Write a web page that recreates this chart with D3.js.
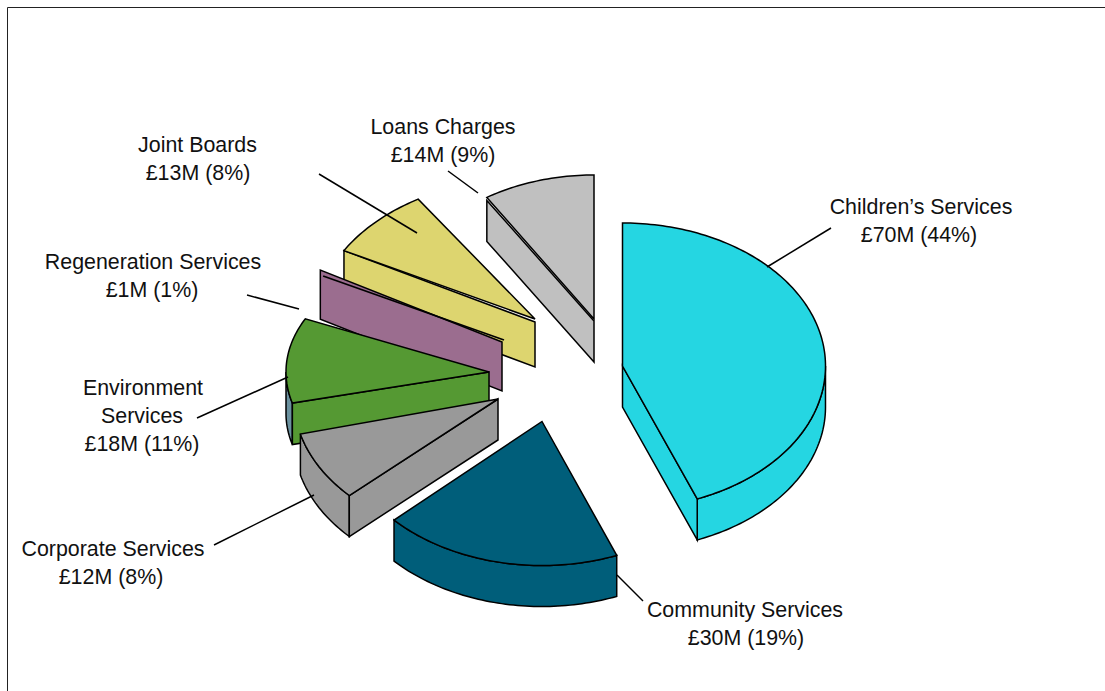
<!DOCTYPE html>
<html>
<head>
<meta charset="utf-8">
<script src="https://cdn.jsdelivr.net/npm/d3@7"></script>
<style>
  html, body { margin: 0; padding: 0; background: #fff; }
  svg { display: block; }
  text { font-family: "Liberation Sans", Arial, sans-serif; font-size: 21.4px; fill: #111; text-anchor: middle; }
</style>
</head>
<body>
<svg id="chart" width="1105" height="691"></svg>
<script>
// Council budget by service, in £M, with each service's share of the total.
const services = ["Children’s Services", "Community Services", "Corporate Services", "Environment Services", "Regeneration Services", "Joint Boards", "Loans Charges"];
const millions = [70, 30, 12, 18, 1, 13, 14];
const shares = [44, 19, 8, 11, 1, 8, 9];

const faceColors = ["#25d6e2", "#005e7a", "#999999", "#559933", "#9b6d8f", "#ddd56f", "#c0c0c0"];
const sideColors = ["#25d6e2", "#005e7a", "#999999", "#6b919f", "#9b6d8f", "#ddd56f", "#c0c0c0"];

// Each exploded wedge: position of its tip, ellipse radii of the top face, and extrusion height.
const tipX = [622.5, 542, 498, 489, 504, 535, 594];
const tipY = [366, 421.5, 399, 372, 340, 319, 319];
const radiusX = [203, 203, 204, 203, 203, 218, 200];
const radiusY = [143, 144, 141, 125, 141, 142, 144];
const depths = [41, 41, 41, 41.5, 49, 45, 41];
// The cut wall sits a little apart from the top face on the far wedges.
const wallTipShiftX = [0, 0, 0, 0, -2, 0, 0];
const wallTipShiftY = [0, 0, 0, 0, 2, 3, 2];
const wallRimRadiusX = [203, 203, 204, 203, 203, 218, 200];
const wallRimRadiusY = [143, 144, 141, 125, 164, 142, 144];
const wallRimShiftY = [0, 0, 0, 0, 0, 0, 3];
// Wedges thinner than this share collapse to a single knife edge on top.
const KNIFE_EDGE_SHARE = 2;

// Callout text, one entry per line, with centre x and baseline y.
const labelLines = [
  [["Children’s Services", 921, 214], ["£70M (44%)", 919, 242]],
  [["Community Services", 745, 617], ["£30M (19%)", 746, 645]],
  [["Corporate Services", 113, 556], ["£12M (8%)", 111, 584]],
  [["Environment", 143, 395], ["Services", 142, 423], ["£18M (11%)", 142, 451]],
  [["Regeneration Services", 153, 269], ["£1M (1%)", 152, 297]],
  [["Joint Boards", 197.5, 152], ["£13M (8%)", 198, 180]],
  [["Loans Charges", 443, 134], ["£14M (9%)", 443, 162]]
];
const leaderLines = [
  [831, 228, 767, 267],
  [643, 601, 617, 575],
  [214, 545, 314, 495],
  [197, 418, 288, 377],
  [247, 295, 299, 309],
  [319, 174, 417, 233],
  [448, 171, 478, 193]
];

const svg = d3.select("#chart");
const INK = "#000";
const EDGE = 1.5;

const wedges = d3.pie().sort(null).value(d => d)(shares);
const polygon = d3.line();

// Maps a wedge's unit circle on to the page as a flattened ellipse.
function ellipse(cx, cy, rx, ry) {
  const x = d3.scaleLinear().domain([-1, 1]).range([cx - rx, cx + rx]);
  const y = d3.scaleLinear().domain([-1, 1]).range([cy - ry, cy + ry]);
  return a => [x(Math.sin(a)), y(-Math.cos(a))];
}

function arcPoints(at, a0, a1) {
  const n = Math.max(2, Math.ceil((a1 - a0) / 0.02));
  return d3.range(n + 1).map(i => at(a0 + (a1 - a0) * i / n));
}

function drawPiece(g, points, fill) {
  g.append("path")
    .attr("d", polygon(points) + "Z")
    .attr("fill", fill)
    .attr("stroke", INK)
    .attr("stroke-width", EDGE)
    .attr("stroke-linejoin", "miter");
}

// Far wedges first so that nearer ones overlap them.
d3.range(wedges.length).reverse().forEach(i => {
  const w = wedges[i];
  const g = svg.append("g").attr("class", "wedge");
  const face = ellipse(tipX[i], tipY[i], radiusX[i], radiusY[i]);
  const depth = depths[i];
  const drop = p => [p[0], p[1] + depth];

  // Curved rim: only the part facing the viewer shows.
  const from = Math.max(w.startAngle, Math.PI / 2);
  const to = Math.min(w.endAngle, Math.PI * 1.5);
  if (to > from) {
    const rim = arcPoints(face, from, to);
    drawPiece(g, rim.concat(rim.map(drop).reverse()), sideColors[i]);
  }

  // Radial cut walls that face the viewer.
  const tip = [tipX[i] + wallTipShiftX[i], tipY[i] + wallTipShiftY[i]];
  const wallRim = ellipse(tipX[i], tipY[i] + wallRimShiftY[i], wallRimRadiusX[i], wallRimRadiusY[i]);
  [w.startAngle, w.endAngle].forEach((a, k) => {
    const s = Math.sin(a);
    const seen = k === 0 ? s < -1e-6 : s > 1e-6;
    if (!seen) return;
    const outer = wallRim(a);
    drawPiece(g, [tip, outer, drop(outer), drop(tip)], faceColors[i]);
  });

  // Top face.
  if (shares[i] < KNIFE_EDGE_SHARE) {
    g.append("path")
      .attr("d", polygon([[tipX[i], tipY[i]], face((w.startAngle + w.endAngle) / 2)]))
      .attr("fill", "none")
      .attr("stroke", INK)
      .attr("stroke-width", EDGE + 0.3);
  } else {
    drawPiece(g, [[tipX[i], tipY[i]]].concat(arcPoints(face, w.startAngle, w.endAngle)), faceColors[i]);
  }
});

// Page frame: top and left rules only.
svg.append("path")
  .attr("d", "M7.5,691V7.5H1105")
  .attr("fill", "none")
  .attr("stroke", "#222")
  .attr("stroke-width", 1);

// Leader lines.
svg.append("g").selectAll("line").data(leaderLines).join("line")
  .attr("x1", d => d[0]).attr("y1", d => d[1])
  .attr("x2", d => d[2]).attr("y2", d => d[3])
  .attr("stroke", INK)
  .attr("stroke-width", EDGE);

// Callouts.
svg.append("g").selectAll("text").data(labelLines.flat()).join("text")
  .attr("x", d => d[1]).attr("y", d => d[2])
  .text(d => d[0]);
</script>
</body>
</html>
